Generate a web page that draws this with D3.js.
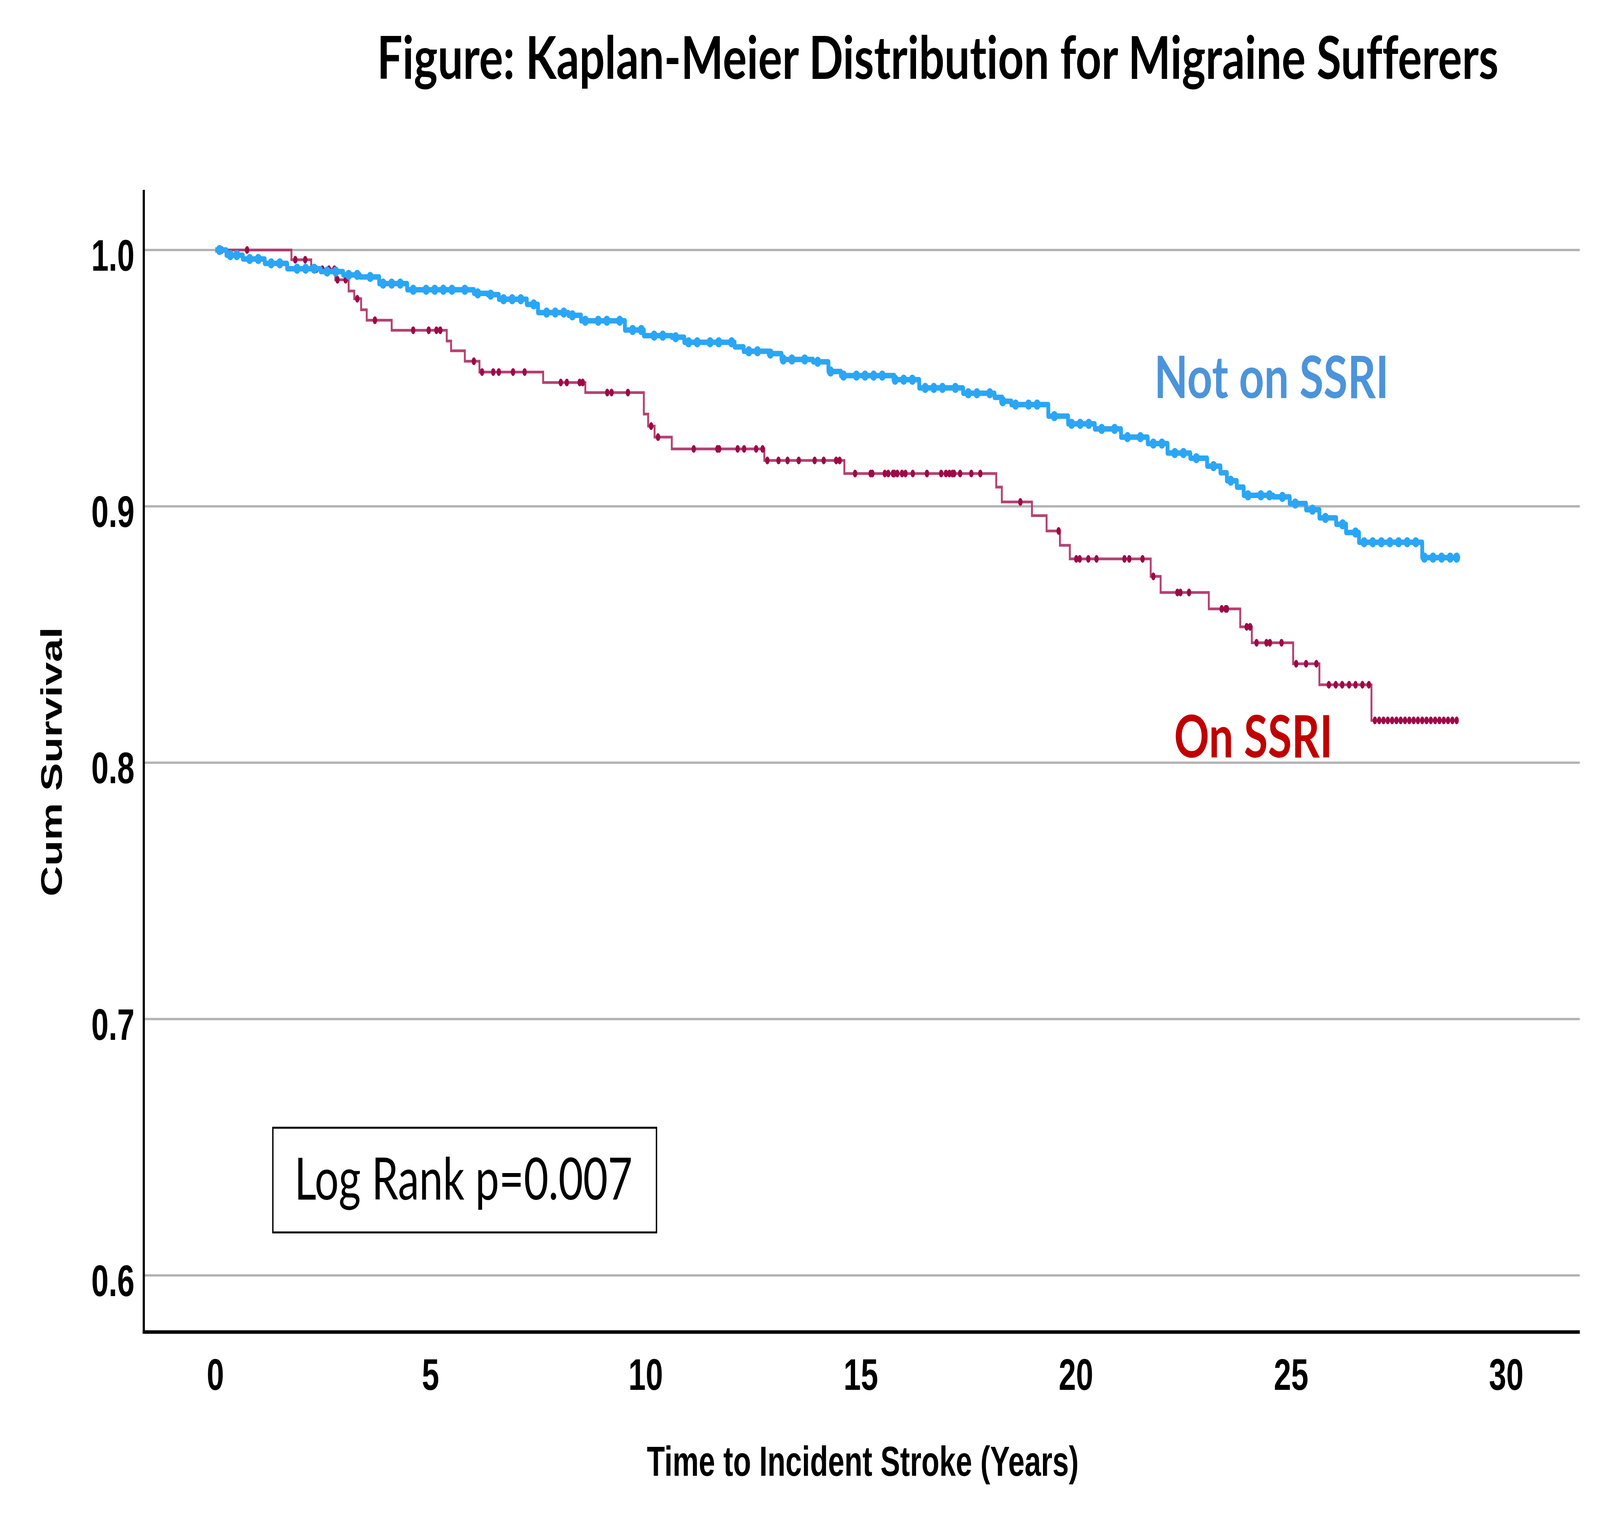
<!DOCTYPE html>
<html>
<head>
<meta charset="utf-8">
<script src="https://cdn.jsdelivr.net/npm/d3@7"></script>
<style>
  html, body { margin: 0; padding: 0; background: #ffffff; overflow: hidden; }
  svg { display: block; width: 100vw; height: 100vh; }
  text { font-variant-ligatures: none; }
</style>
</head>
<body>
<svg id="chart" viewBox="0 0 5864 3904" preserveAspectRatio="none"></svg>
<script>
// ---------------- DATA ----------------
const titleText = "Figure: Kaplan-Meier Distribution for Migraine Sufferers";
const xTickValues = [0, 5, 10, 15, 20, 25, 30];
const yTickValues = [0.6, 0.7, 0.8, 0.9, 1.0];
const xTitle = "Time to Incident Stroke (Years)";
const yTitle = "Cum Survival";
const seriesNames = ["Not on SSRI", "On SSRI"];
const annotation = "Log Rank p=0.007";

// Not on SSRI: step times and survival (value holds from time onward)
const blueTimes = [0, 0.26, 0.64, 1.15, 1.67, 2.45, 2.97, 3.36, 3.81, 4.46, 6.01, 6.33, 6.59, 7.24, 7.50,
  8.21, 8.50, 9.52, 9.96, 10.61, 10.90, 12.07, 12.28, 12.87, 13.16, 13.89, 14.25, 14.54, 15.78,
  16.36, 17.38, 18.11, 18.29, 18.50, 19.36, 19.82, 20.44, 21.05, 21.67, 22.13, 22.66, 23.05,
  23.36, 23.51, 23.74, 23.90, 24.59, 24.97, 25.35, 25.66, 26.05, 26.28, 26.58, 28.05, 28.89];
const blueSurv = [1.0, 0.998, 0.9965, 0.9948, 0.9927, 0.9916, 0.9903, 0.9895, 0.9869, 0.9845, 0.9831, 0.9826, 0.9808, 0.9788, 0.9756,
  0.9745, 0.9724, 0.9688, 0.9666, 0.966, 0.964, 0.9622, 0.9605, 0.9596, 0.9573, 0.9564, 0.9526, 0.951, 0.9494,
  0.9462, 0.9441, 0.9425, 0.941, 0.9397, 0.9352, 0.9322, 0.9302, 0.927, 0.9245, 0.9208, 0.9188, 0.9157,
  0.9131, 0.910, 0.9075, 0.9043, 0.9037, 0.9011, 0.8987, 0.8955, 0.893, 0.8898, 0.886, 0.880, 0.880];
const blueCensor = [0.1, 0.35, 0.5, 0.8, 1.0, 1.3, 1.5, 1.9, 2.1, 2.3, 2.6, 2.8, 3.1, 3.3, 3.6, 3.9, 4.1, 4.3,
  4.6, 4.9, 5.1, 5.3, 5.5, 5.8, 6.1, 6.4, 6.7, 6.9, 7.1, 7.4, 7.7, 7.9, 8.1, 8.3, 8.6, 8.9, 9.1, 9.4, 9.7,
  9.9, 10.2, 10.4, 10.7, 11.0, 11.2, 11.5, 11.7, 12.0, 12.4, 12.6, 12.9, 13.2, 13.4, 13.7, 14.0, 14.3, 14.6,
  14.9, 15.1, 15.3, 15.5, 15.8, 16.0, 16.2, 16.5, 16.7, 16.9, 17.2, 17.5, 17.7, 18.0, 18.3, 18.6, 18.9, 19.1,
  19.5, 19.9, 20.1, 20.3, 20.6, 20.9, 21.2, 21.5, 21.8, 22.0, 22.3, 22.5, 22.8, 23.2, 23.6, 24.0, 24.3, 24.5,
  24.8, 25.1, 25.5, 25.8, 26.2, 26.5, 26.7, 26.9, 27.1, 27.3, 27.5, 27.7, 27.9, 28.1, 28.3, 28.5, 28.7, 28.85];

// On SSRI
const redTimes = [0, 1.77, 2.23, 2.79, 3.10, 3.23, 3.39, 3.52, 4.10, 5.38, 5.48, 5.80, 6.14, 7.62, 8.60,
  9.96, 10.06, 10.21, 10.61, 12.76, 14.62, 18.15, 18.28, 18.98, 19.32, 19.63, 19.86, 21.74, 21.97,
  23.09, 23.82, 24.09, 25.05, 25.66, 26.87, 28.88];
const redSurv = [1.0, 0.9962, 0.9925, 0.9884, 0.984, 0.981, 0.9767, 0.9726, 0.9687, 0.9645, 0.9607, 0.9566, 0.9524, 0.9483, 0.9444,
  0.936, 0.9313, 0.927, 0.9224, 0.9179, 0.9128, 0.9075, 0.9017, 0.8964, 0.8904, 0.8848, 0.8795, 0.8727, 0.8664,
  0.860, 0.853, 0.8468, 0.8386, 0.8304, 0.8165, 0.8165];
const redCensor = [0.15, 0.74, 1.86, 2.09, 2.35, 2.49, 2.64, 2.77, 2.84, 3.03, 3.30, 3.71, 4.60, 4.96, 5.14, 5.23,
  6.01, 6.20, 6.46, 6.59, 6.92, 7.19, 8.03, 8.17, 8.47, 8.54, 9.11, 9.21, 9.59, 10.13, 10.29,
  11.12, 11.67, 11.71, 12.14, 12.29, 12.57, 12.72, 12.83, 13.09, 13.30, 13.56, 13.93, 14.14, 14.43, 14.51,
  14.87, 15.23, 15.27, 15.56, 15.64, 15.75, 15.78, 15.85, 15.96, 16.04, 16.21, 16.54, 16.87, 16.98, 17.06,
  17.13, 17.17, 17.31, 17.57, 17.78, 18.71, 19.60, 20.01, 20.09, 20.29, 20.48, 21.13, 21.24, 21.55, 21.80,
  22.36, 22.43, 22.63, 23.39, 23.48, 23.51, 23.97, 24.05, 24.20, 24.43, 24.51, 24.78, 25.12, 25.35, 25.59,
  25.88, 26.04, 26.19, 26.35, 26.50, 26.66, 26.81, 26.95, 27.05, 27.15, 27.25, 27.35, 27.45, 27.55, 27.65,
  27.75, 27.85, 27.95, 28.05, 28.15, 28.25, 28.35, 28.45, 28.55, 28.65, 28.75, 28.85];

// ---------------- CHART ----------------
(function () {
const svg = d3.select("#chart");
const pLeft = 527, pRight = 5790, pTop = 486, pBottom = 3410;

const x = d3.scaleLinear().domain([-1.661, 31.712]).range([pLeft, pRight]);
const y = d3.scaleLinear().domain([0.5779, 1.02347]).range([pBottom, pTop]);

const blueColor = "#2aa6f6";
const redLine = "#ad2c62";
const redMark = "#9c0a47";

// Title
svg.append("text")
  .attr("x", 3437).attr("y", 202)
  .attr("text-anchor", "middle")
  .attr("font-family", "Lato, 'Open Sans', sans-serif")
  .attr("font-weight", 700)
  .attr("font-size", 152)
  .attr("textLength", 4110)
  .attr("lengthAdjust", "spacingAndGlyphs")
  .attr("fill", "#000")
  .text(titleText);

// Gridlines
svg.append("g").selectAll("line").data(yTickValues).join("line")
  .attr("x1", pLeft).attr("x2", pRight)
  .attr("y1", d => y(d)).attr("y2", d => y(d))
  .attr("stroke", "#b3b3b3").attr("stroke-width", 6);

// Y axis
const yAxis = d3.axisLeft(y).tickValues(yTickValues).tickFormat(d3.format(".1f"))
  .tickSize(0).tickPadding(34).tickSizeOuter(0);
const gy = svg.append("g").attr("transform", `translate(${pLeft},0)`).call(yAxis);
gy.select(".domain").remove();
gy.selectAll("text")
  .attr("font-family", "'Liberation Sans', Arial, sans-serif")
  .attr("font-weight", 700).attr("font-size", 114)
  .attr("fill", "#000").attr("dy", "0.46em");

// X axis
const xAxis = d3.axisBottom(x).tickValues(xTickValues).tickFormat(d3.format("d"))
  .tickSize(0).tickPadding(67).tickSizeOuter(0);
const gx = svg.append("g").attr("transform", `translate(0,${pBottom})`).call(xAxis);
gx.select(".domain").remove();
gx.selectAll("text")
  .attr("font-family", "'Liberation Sans', Arial, sans-serif")
  .attr("font-weight", 700).attr("font-size", 114)
  .attr("fill", "#000");

// Axis lines
svg.append("line").attr("x1", pLeft).attr("x2", pLeft).attr("y1", pTop).attr("y2", pBottom + 4)
  .attr("stroke", "#000").attr("stroke-width", 8);
svg.append("line").attr("x1", pLeft - 4).attr("x2", pRight).attr("y1", pBottom).attr("y2", pBottom)
  .attr("stroke", "#000").attr("stroke-width", 9);

// Axis titles
svg.append("text")
  .attr("x", 3162).attr("y", 3778)
  .attr("text-anchor", "middle")
  .attr("font-family", "'Liberation Sans', Arial, sans-serif")
  .attr("font-weight", 700).attr("font-size", 108)
  .attr("fill", "#000")
  .text(xTitle);

svg.append("text")
  .attr("transform", "translate(226,1950) rotate(-90)")
  .attr("text-anchor", "middle")
  .attr("font-family", "'Liberation Sans', Arial, sans-serif")
  .attr("font-weight", 700).attr("font-size", 108)
  .attr("fill", "#000")
  .text(yTitle);

// Curves
const blueData = blueTimes.map((t, i) => [t, blueSurv[i]]);
const redData = redTimes.map((t, i) => [t, redSurv[i]]);
const stepLine = d3.line().x(d => x(d[0])).y(d => y(d[1])).curve(d3.curveStepAfter);
const bis = d3.bisector(d => d[0]).right;
const survAt = (data, t) => data[Math.max(0, bis(data, t) - 1)][1];

// On SSRI line
svg.append("path").datum(redData)
  .attr("d", stepLine)
  .attr("fill", "none").attr("stroke", redLine).attr("stroke-width", 7)
  .attr("stroke-opacity", 0.9);
svg.append("g").selectAll("ellipse").data(redCensor).join("ellipse")
  .attr("cx", d => x(d)).attr("cy", d => y(survAt(redData, d)))
  .attr("rx", 8).attr("ry", 10)
  .attr("fill", redMark);

// Not on SSRI line
svg.append("path").datum(blueData)
  .attr("d", stepLine)
  .attr("fill", "none").attr("stroke", blueColor).attr("stroke-width", 14)
  .attr("stroke-linejoin", "round");
svg.append("g").selectAll("ellipse").data(blueCensor).join("ellipse")
  .attr("cx", d => x(d)).attr("cy", d => y(survAt(blueData, d)))
  .attr("rx", 13).attr("ry", 13)
  .attr("fill", blueColor);

// Series labels
svg.append("text")
  .attr("x", 4230).attr("y", 1019)
  .attr("font-family", "Lato, 'Open Sans', sans-serif")
  .attr("font-weight", 700).attr("font-size", 150)
  .attr("textLength", 860).attr("lengthAdjust", "spacingAndGlyphs")
  .attr("fill", "#4c94da")
  .text(seriesNames[0]);
svg.append("text")
  .attr("x", 4303).attr("y", 1939)
  .attr("font-family", "Lato, 'Open Sans', sans-serif")
  .attr("font-weight", 700).attr("font-size", 150)
  .attr("textLength", 581).attr("lengthAdjust", "spacingAndGlyphs")
  .attr("fill", "#c00000")
  .text(seriesNames[1]);

// Annotation box
svg.append("rect")
  .attr("x", 1000).attr("y", 2887).attr("width", 1406).attr("height", 268)
  .attr("fill", "#fff").attr("stroke", "#000").attr("stroke-width", 5);
svg.append("text")
  .attr("x", 1079).attr("y", 3071)
  .attr("font-family", "Lato, 'Open Sans', sans-serif")
  .attr("font-weight", 400).attr("font-size", 150)
  .attr("textLength", 1239).attr("lengthAdjust", "spacingAndGlyphs")
  .attr("fill", "#000")
  .text(annotation);
})();
</script>
</body>
</html>
